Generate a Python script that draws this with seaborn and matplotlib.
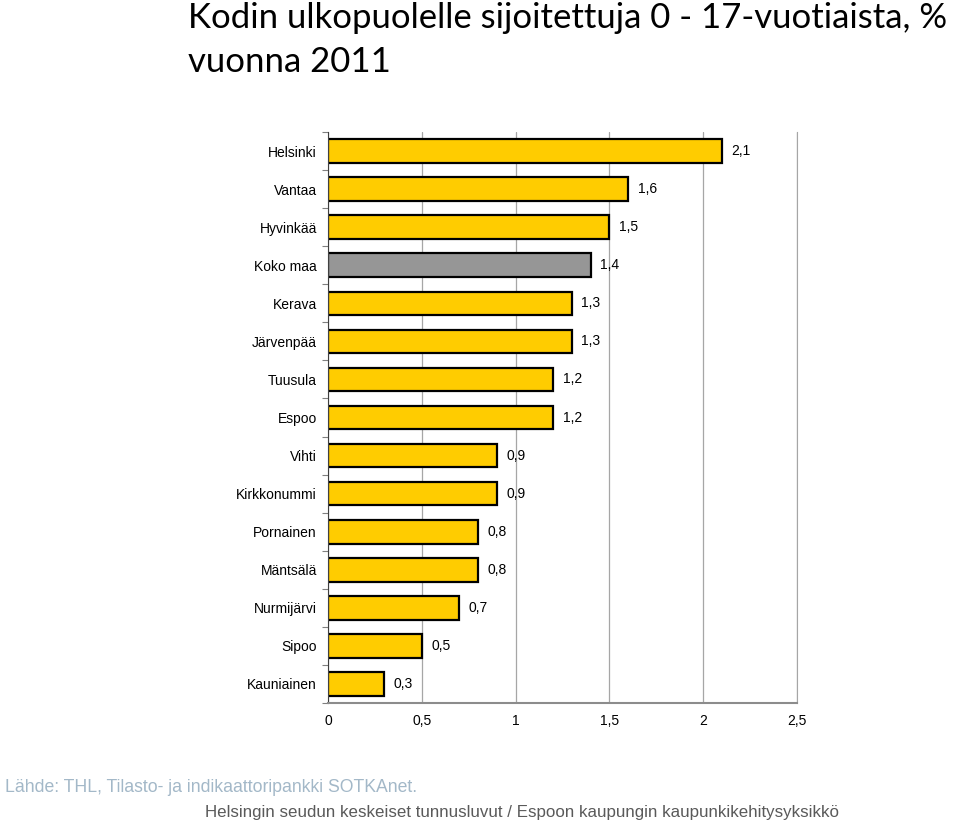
import matplotlib
matplotlib.use("Agg")
import matplotlib.pyplot as plt
import seaborn as sns
import pandas as pd
from matplotlib.ticker import FixedLocator

categories = ["Helsinki", "Vantaa", "Hyvinkää", "Koko maa", "Kerava", "Järvenpää",
              "Tuusula", "Espoo", "Vihti", "Kirkkonummi", "Pornainen", "Mäntsälä",
              "Nurmijärvi", "Sipoo", "Kauniainen"]
values = [2.1, 1.6, 1.5, 1.4, 1.3, 1.3, 1.2, 1.2, 0.9, 0.9, 0.8, 0.8, 0.7, 0.5, 0.3]
xticks = [0, 0.5, 1, 1.5, 2, 2.5]
xtick_labels = ["0", "0,5", "1", "1,5", "2", "2,5"]

df = pd.DataFrame({"kunta": categories, "arvo": values})
palette = {c: ("#969696" if c == "Koko maa" else "#FFCC00") for c in categories}

sns.set_style("white")
plt.rcParams["font.family"] = ["Liberation Sans", "DejaVu Sans"]
plt.rcParams["text.color"] = "black"
plt.rcParams["xtick.color"] = "black"
plt.rcParams["ytick.color"] = "black"

fig = plt.figure(figsize=(9.6, 8.23), dpi=100)
ax = fig.add_axes([0.3417, 0.1458, 0.4885, 0.6938])

sns.barplot(data=df, y="kunta", x="arvo", hue="kunta", palette=palette, legend=False,
            orient="h", width=0.62, edgecolor="black", linewidth=1.6, saturation=1, ax=ax)

ax.set_xlim(0, 2.5)
ax.set_ylim(len(categories) - 0.5, -0.5)
ax.set_xticks(xticks)
ax.set_xticklabels(xtick_labels, fontsize=10)
ax.set_xlabel("")
ax.set_ylabel("")
ax.tick_params(axis="y", length=0, labelsize=10, pad=8, labelcolor="black")
ax.tick_params(axis="x", length=0, labelsize=10, pad=8, labelcolor="black")
ax.yaxis.set_minor_locator(FixedLocator([i - 0.5 for i in range(len(categories) + 1)]))
ax.tick_params(axis="y", which="minor", length=4, color="#808080", width=0.8, left=True)
ax.xaxis.grid(True, color="#a6a6a6", linewidth=0.9)
ax.set_axisbelow(True)
ax.spines["top"].set_visible(False)
ax.spines["left"].set_color("#404040")
ax.spines["right"].set_color("#a6a6a6")
ax.spines["bottom"].set_color("#8c8c8c")
ax.spines["bottom"].set_linewidth(1.5)

for i, v in enumerate(values):
    ax.text(v + 0.05, i, f"{v:.1f}".replace(".", ","), va="center", ha="left",
            fontsize=10, color="black")

fig.text(0.196, 0.997, "Kodin ulkopuolelle sijoitettuja 0 - 17-vuotiaista, %\nvuonna 2011",
         ha="left", va="top", fontsize=25, family=["Lato", "DejaVu Sans"],
         linespacing=1.45, color="black")

fig.text(0.005, 0.043, "Lähde: THL, Tilasto- ja indikaattoripankki SOTKAnet.",
         ha="left", va="center", fontsize=12.7, color="#a3b8c8")
fig.text(0.2135, 0.013, "Helsingin seudun keskeiset tunnusluvut / Espoon kaupungin kaupunkikehitysyksikkö",
         ha="left", va="center", fontsize=12.2, color="#5a5a5a")

fig.savefig("out.png", dpi=100)
